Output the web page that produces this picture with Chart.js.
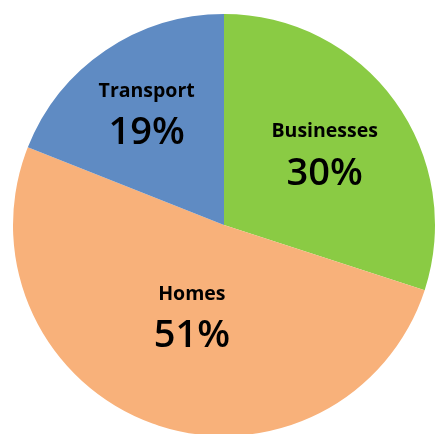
<!DOCTYPE html>
<html>
<head>
<meta charset="utf-8">
<script src="https://cdn.jsdelivr.net/npm/chart.js@4/dist/chart.umd.min.js"></script>
<style>
  html, body { margin: 0; padding: 0; background: #fff; overflow: hidden; }
  #wrap { position: absolute; left: 0; top: 0; width: 448px; height: 450px; }
</style>
</head>
<body>
<div id="wrap"><canvas id="id-canvas"></canvas></div>
<script>
var categories = ['Businesses', 'Homes', 'Transport'];
var shares = [30, 51, 19];
var sliceColors = ['#8acb44', '#f8b17a', '#5f8bc3'];
// how far out from the centre each label block sits (fraction of radius)
var labelDepth = [0.59, 0.45, 0.652];

// writes the name and the percentage inside each slice
var sliceLabels = {
  id: 'sliceLabels',
  afterDatasetsDraw: function(chart) {
    var ctx = chart.ctx;
    var meta = chart.getDatasetMeta(0);
    var total = shares.reduce(function(a, b) { return a + b; }, 0);
    ctx.save();
    ctx.fillStyle = '#000';
    ctx.textAlign = 'center';
    ctx.textBaseline = 'middle';
    meta.data.forEach(function(arc, i) {
      var p = arc.getProps(['x', 'y', 'startAngle', 'endAngle', 'outerRadius'], true);
      var mid = (p.startAngle + p.endAngle) / 2;
      var r = p.outerRadius * labelDepth[i];
      var cx = p.x + Math.cos(mid) * r;
      var cy = p.y + Math.sin(mid) * r;
      ctx.font = 'bold 19.5px "Open Sans"';
      ctx.fillText(categories[i], cx, cy - 20);
      ctx.font = '600 38px "Open Sans"';
      ctx.fillText(Math.round(shares[i] / total * 100) + '%', cx, cy + 22);
    });
    ctx.restore();
  }
};

(function() {
  var ctx = document.getElementById('id-canvas').getContext('2d');
  window.pie = new Chart(ctx, {
    type: 'pie',
    data: {
      labels: categories,
      datasets: [{
        data: shares,
        backgroundColor: sliceColors,
        borderWidth: 0
      }]
    },
    options: {
      responsive: true,
      maintainAspectRatio: false,
      animation: false,
      layout: { padding: { left: 13, right: 13, top: 14, bottom: 14 } },
      plugins: {
        legend: { display: false },
        tooltip: { enabled: false }
      }
    },
    plugins: [sliceLabels]
  });
})();
</script>
</body>
</html>
